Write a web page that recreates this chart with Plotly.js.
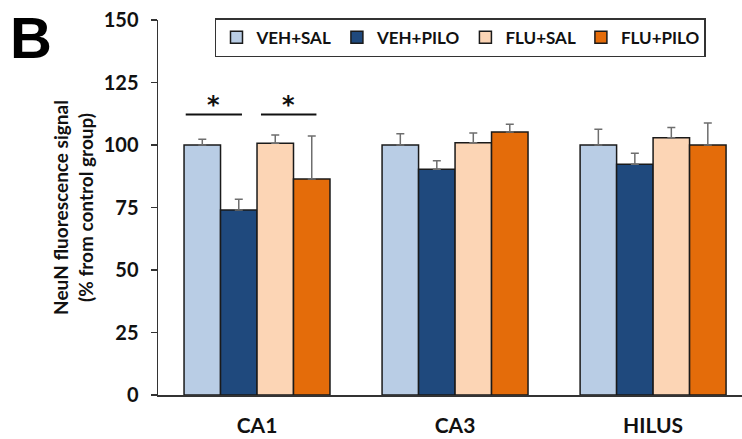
<!DOCTYPE html>
<html><head><meta charset="utf-8">
<script src="https://cdn.plot.ly/plotly-3.0.1.min.js"></script>
<style>html,body{margin:0;padding:0;background:#fff}#chart{width:742px;height:439px}</style>
</head><body><div id="chart"></div>
<script>
const regions = ['CA1', 'CA3', 'HILUS'];
const seriesNames = ['VEH+SAL', 'VEH+PILO', 'FLU+SAL', 'FLU+PILO'];
const vehSal = [100, 100, 100];
const vehSalErr = [2.3, 4.5, 6.3];
const vehPilo = [74, 90.3, 92.3];
const vehPiloErr = [4.3, 3.4, 4.4];
const fluSal = [100.7, 100.9, 102.9];
const fluSalErr = [3.3, 3.9, 4.1];
const fluPilo = [86.4, 105.2, 100];
const fluPiloErr = [17.2, 3.1, 8.8];
const colors = ['#b9cde5', '#1f497d', '#fcd5b5', '#e46c0a'];
const yTicks = [0, 25, 50, 75, 100, 125, 150];

const vals = [vehSal, vehPilo, fluSal, fluPilo];
const errs = [vehSalErr, vehPiloErr, fluSalErr, fluPiloErr];
const FONT = 'Lato, "Open Sans", sans-serif';

const data = seriesNames.map((n, i) => ({
  type: 'bar', name: n, x: regions, y: vals[i],
  marker: {color: colors[i], line: {color: '#1a1a1a', width: 1.5}},
  error_y: {type: 'data', array: errs[i], symmetric: false, arrayminus: [0,0,0],
            color: '#6e6e6e', thickness: 1.5, width: 4}
}));

const layout = {
  width: 742, height: 439,
  margin: {l: 158, r: 0, t: 20, b: 44},
  paper_bgcolor: '#fff', plot_bgcolor: '#fff',
  barmode: 'group', bargap: 0.263, bargroupgap: 0,
  font: {family: FONT, color: '#111'},
  xaxis: {
    range: [-0.5, 2.449], showline: true, linecolor: '#333', linewidth: 1.5,
    ticks: '', showgrid: false, zeroline: false, fixedrange: true,
    tickfont: {family: FONT, size: 21, color: '#111', weight: 'bold'},
    ticklabelstandoff: 11
  },
  yaxis: {
    range: [0, 150], tickvals: yTicks, ticktext: yTicks.map(String),
    showline: true, linecolor: '#333', linewidth: 1.5,
    ticks: 'outside', ticklen: 6, tickwidth: 1.5, tickcolor: '#333',
    showgrid: false, zeroline: false, ticklabelstandoff: 8,
    tickfont: {family: FONT, size: 20, color: '#111', weight: 'bold'},
    title: {text: 'NeuN fluorescence signal<br>(% from control group)',
            font: {family: FONT, size: 19, color: '#111', weight: 'bold'}, standoff: 5}
  },
  showlegend: true,
  legend: {
    orientation: 'h', x: 0.0976, xanchor: 'left', y: 1.005, yanchor: 'top',
    bordercolor: '#333', borderwidth: 1.5, bgcolor: '#fff',
    font: {family: FONT, size: 17, color: '#111', weight: 'bold'},
    traceorder: 'normal', itemwidth: 30
  },
  shapes: [
    {type: 'line', xref: 'x', yref: 'y', x0: -0.36, x1: -0.076, y0: 112.2, y1: 112.2,
     line: {color: '#111', width: 2}},
    {type: 'line', xref: 'x', yref: 'y', x0: 0.02, x1: 0.30, y0: 112.2, y1: 112.2,
     line: {color: '#111', width: 2}}
  ],
  annotations: [
    {text: '*', xref: 'x', yref: 'y', x: -0.218, y: 109.7, yanchor: 'bottom', showarrow: false,
     font: {family: 'DejaVu Sans', size: 24, color: '#111', weight: 'bold'}},
    {text: '*', xref: 'x', yref: 'y', x: 0.16, y: 109.7, yanchor: 'bottom', showarrow: false,
     font: {family: 'DejaVu Sans', size: 24, color: '#111', weight: 'bold'}},
    {text: 'B', xref: 'paper', yref: 'paper', x: -0.256, y: 1.045, xanchor: 'left', yanchor: 'top',
     showarrow: false, font: {family: 'Liberation Sans, Arial', size: 58, color: '#000', weight: 'bold'}}
  ]
};

Plotly.newPlot('chart', data, layout, {displayModeBar: false, staticPlot: true});
</script>
</body></html>
